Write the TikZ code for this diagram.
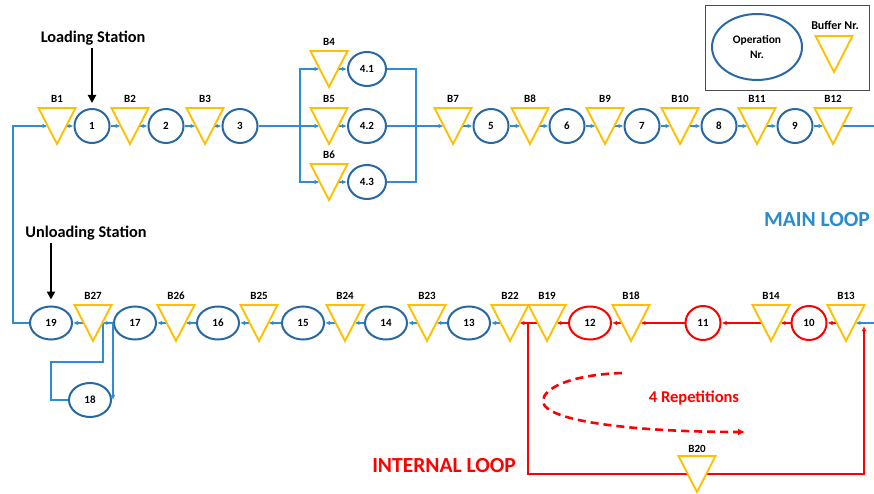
\documentclass[tikz,border=0pt]{standalone}
\usepackage{fontspec}
\setmainfont{Carlito}
\usetikzlibrary{arrows.meta,shapes.geometric}
\definecolor{opblue}{RGB}{40,105,165}
\definecolor{lnblue}{RGB}{45,140,210}
\definecolor{txtblue}{RGB}{40,140,205}
\definecolor{gold}{RGB}{255,192,0}
\definecolor{myred}{RGB}{255,0,0}
\begin{document}
\begin{tikzpicture}[x=1pt,y=-1pt,
  op/.style={ellipse,draw=opblue,line width=2pt,fill=white,inner sep=0pt,
    minimum width=35pt,minimum height=34pt,font=\bfseries\fontsize{11}{13}\selectfont},
  opw/.style={op,minimum width=42pt,minimum height=33pt},
  opred/.style={draw=myred},
  buf/.style={rectangle,inner sep=0pt,minimum width=18.5pt,minimum height=36pt},
  bl/.style={font=\bfseries\fontsize{11}{13}\selectfont,inner sep=1pt,label distance=4pt},
  bufshape/.style={draw=gold,line width=1.9pt,fill=white,line join=miter},
  flowline/.style={draw=lnblue,line width=1.5pt},
  flow/.style={flowline,-{Latex[length=5pt,width=4.5pt]}},
  redline/.style={draw=myred,line width=1.5pt},
  redflow/.style={redline,-{Latex[length=5pt,width=4.5pt]}},
  dashflow/.style={draw=myred,line width=2.6pt,dash pattern=on 8pt off 5pt,-{Latex[length=7pt,width=7pt]}},
  bigarrow/.style={draw=black,line width=2.4pt,-{Triangle[length=8pt,width=8pt]}},
  station/.style={font=\bfseries\fontsize{16.3}{18}\selectfont,inner sep=2pt},
  bigtxt/.style={font=\bfseries\fontsize{21.5}{24}\selectfont,inner sep=1pt}
]
\useasboundingbox (0,0) rectangle (874,494);

% ---------- legend ----------
\draw[black!70,line width=0.8pt] (705,5) rectangle (869,90);
\node[op,minimum width=90pt,minimum height=66pt,align=center,
  font=\bfseries\fontsize{11.5}{15}\selectfont] (lgop) at (757,47) {Operation\\Nr.};
\node[font=\bfseries\fontsize{12}{14}\selectfont] (lgbtxt) at (835,25) {Buffer Nr.};
\node[buf] (LB) at (834,54) {};

% ---------- top row ----------
\node[buf,label={[bl]above:B1}] (B1) at (57,126) {};
\node[op] (n1) at (92,126) {1};
\node[buf,label={[bl]above:B2}] (B2) at (130,126) {};
\node[op] (n2) at (166,126) {2};
\node[buf,label={[bl]above:B3}] (B3) at (205,126) {};
\node[op] (n3) at (240,126) {3};
\node[buf,label={[bl]above:B4}] (B4) at (329,69) {};
\node[op,minimum width=38pt] (n41) at (367,69) {4.1};
\node[buf,label={[bl]above:B5}] (B5) at (329,126) {};
\node[op,minimum width=38pt] (n42) at (367,126) {4.2};
\node[buf,label={[bl]above:B6}] (B6) at (329,182) {};
\node[op,minimum width=38pt] (n43) at (367,182) {4.3};
\node[buf,label={[bl]above:B7}] (B7) at (453,126) {};
\node[op] (n5) at (491,126) {5};
\node[buf,label={[bl]above:B8}] (B8) at (530,126) {};
\node[op] (n6) at (567,126) {6};
\node[buf,label={[bl]above:B9}] (B9) at (605,126) {};
\node[op] (n7) at (642,126) {7};
\node[buf,label={[bl]above:B10}] (B10) at (680,126) {};
\node[op] (n8) at (719,126) {8};
\node[buf,label={[bl]above:B11}] (B11) at (757,126) {};
\node[op] (n9) at (795,126) {9};
\node[buf,label={[bl]above:B12}] (B12) at (833,126) {};

% ---------- bottom row ----------
\node[opw] (n19) at (51,323) {19};
\node[buf,label={[bl]above:B27}] (B27) at (93,323) {};
\node[opw] (n17) at (135,323) {17};
\node[buf,label={[bl]above:B26}] (B26) at (176,323) {};
\node[opw] (n16) at (218,323) {16};
\node[buf,label={[bl]above:B25}] (B25) at (259,323) {};
\node[opw] (n15) at (303,323) {15};
\node[buf,label={[bl]above:B24}] (B24) at (345,323) {};
\node[opw] (n14) at (386,323) {14};
\node[buf,label={[bl]above:B23}] (B23) at (427,323) {};
\node[opw] (n13) at (469,323) {13};
\node[buf,label={[bl]above:B22}] (B22) at (510,323) {};
\node[buf,label={[bl]above:B19}] (B19) at (547,323) {};
\node[opw,opred] (n12) at (590,323) {12};
\node[buf,label={[bl]above:B18}] (B18) at (631,323) {};
\node[op,opred] (n11) at (703,323) {11};
\node[buf,label={[bl]above:B14}] (B14) at (771,323) {};
\node[op,opred] (n10) at (809,323) {10};
\node[buf,label={[bl]above:B13}] (B13) at (846,323) {};
\node[opw,minimum height=34pt] (n18) at (90,400) {18};
\node[buf,label={[bl,label distance=2pt]above:B20}] (B20) at (697,474) {};

% ---------- texts ----------
\node[station] (load) at (93,38) {Loading Station};
\node[station] (unload) at (86,233) {Unloading Station};
\node[bigtxt,text=txtblue] (mainloop) at (817,220) {MAIN LOOP};
\node[bigtxt,text=myred] (intloop) at (444,466) {INTERNAL LOOP};
\node[font=\bfseries\fontsize{16.5}{18}\selectfont,text=myred] (reps) at (694,398) {4 Repetitions};

\draw[bigarrow,shorten <=1pt,shorten >=5pt] (n1.north |- load.south) -- (n1.north);
\draw[bigarrow,shorten <=1pt,shorten >=6pt] (n19.north |- unload.south) -- (n19.north);

% ---------- connectors top ----------
\draw[flow] (B1) -- (n1);
\draw[flow] (n1) -- (B2);
\draw[flow] (B2) -- (n2);
\draw[flow] (n2) -- (B3);
\draw[flow] (B3) -- (n3);
\coordinate (sp) at (300,126);
\coordinate (mg) at (416,126);
\draw[flowline] (n3) -- (sp);
\draw[flow] (sp) -- (B5);
\draw[flow] (sp) |- (B4);
\draw[flow] (sp) |- (B6);
\draw[flow] (B4) -- (n41);
\draw[flow] (B5) -- (n42);
\draw[flow] (B6) -- (n43);
\draw[flowline] (n41) -| (mg);
\draw[flowline] (n43) -| (mg);
\draw[flow] (n42) -- (B7);
\draw[flow] (B7) -- (n5);
\draw[flow] (n5) -- (B8);
\draw[flow] (B8) -- (n6);
\draw[flow] (n6) -- (B9);
\draw[flow] (B9) -- (n7);
\draw[flow] (n7) -- (B10);
\draw[flow] (B10) -- (n8);
\draw[flow] (n8) -- (B11);
\draw[flow] (B11) -- (n9);
\draw[flow] (n9) -- (B12);
\coordinate (rt) at (876,126);
\draw[flowline] (B12) -- (rt);

% ---------- connectors bottom ----------
\coordinate (rb) at (876,323);
\draw[flow] (rb) -- (B13);
\draw[redflow] (B13) -- (n10);
\draw[redflow] (n10) -- (B14);
\draw[redflow] (B14) -- (n11);
\draw[redflow] (n11) -- (B18);
\draw[redflow] (B18) -- (n12);
\draw[redflow] (n12) -- (B19);
\draw[redflow] (B19) -- (B22);
\draw[flow] (B22) -- (n13);
\draw[flow] (n13) -- (B23);
\draw[flow] (B23) -- (n14);
\draw[flow] (n14) -- (B24);
\draw[flow] (B24) -- (n15);
\draw[flow] (n15) -- (B25);
\draw[flow] (B25) -- (n16);
\draw[flow] (n16) -- (B26);
\draw[flow] (B26) -- (n17);
\draw[flow] (n17) -- (B27);
\draw[flow] (B27) -- (n19);
\coordinate (lx) at (13,220);
\draw[flow] (n19) -| (lx) |- (B1);
\draw[flow] (n17.west) -- (n17.west |- n18.east);
\coordinate (q1) at (51,362);
\coordinate (q2) at (103,362);
\draw[flowline] (n18) -| (q1) -- (q2) -- (q2 |- B27);

% ---------- internal loop ----------
\coordinate (r1) at (528,323);
\coordinate (r3) at (864,474);
\coordinate (r4) at (864,326);
\draw[redflow] (r1) |- (r3) -- (r4);
\coordinate (d0) at (622,373);
\coordinate (d2) at (543,401);
\coordinate (d1) at (745,432);
\draw[dashflow] (d0) .. controls (568,375) and (543,389) .. (d2)
  .. controls (543,422) and (640,432) .. (d1);

% ---------- buffer triangles ----------
\foreach \b in {LB,B1,B2,B3,B4,B5,B6,B7,B8,B9,B10,B11,B12,B13,B14,B18,B19,B20,B22,B23,B24,B25,B26,B27}
  \draw[bufshape] ([shift={(-18.5,-18)}]\b.center) -- ([shift={(18.5,-18)}]\b.center)
    -- ([shift={(0,18)}]\b.center) -- cycle;
\end{tikzpicture}
\end{document}
